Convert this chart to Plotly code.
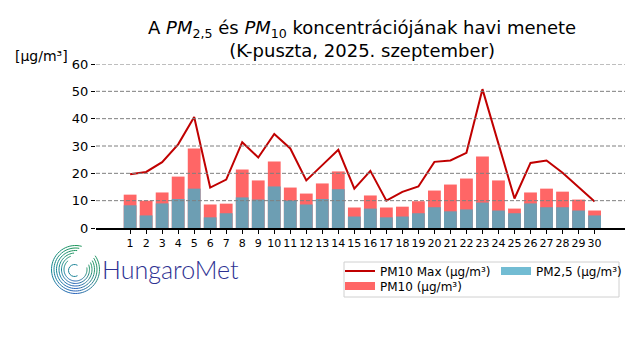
import math
import plotly.graph_objects as go

days = list(range(1, 31))
pm25 = [8.3, 4.6, 9.0, 10.6, 14.4, 3.9, 5.4, 11.2, 10.4, 15.2, 10.0, 8.6, 10.6, 14.2, 4.2,
        7.1, 3.9, 4.2, 5.4, 7.6, 6.1, 6.8, 9.3, 6.4, 5.4, 9.0, 7.6, 7.6, 6.4, 4.6]
pm10 = [12.2, 10.0, 13.0, 18.8, 29.1, 8.6, 8.9, 21.4, 17.4, 24.3, 14.8, 12.6, 16.3, 20.7, 7.5,
        11.9, 7.5, 7.8, 9.8, 13.7, 15.9, 18.1, 26.2, 17.4, 7.1, 13.0, 14.4, 13.3, 10.4, 6.4]
pm10max = [19.7, 20.5, 24.1, 30.6, 40.6, 14.8, 17.7, 31.4, 25.8, 34.4, 29.1, 17.4, 23.0, 28.6, 14.4,
           20.9, 10.0, 13.2, 15.2, 24.2, 24.7, 27.5, 50.8, 30.5, 10.8, 23.8, 24.7, 20.2, 15.0, 9.7]
yticks = [0, 10, 20, 30, 40, 50, 60]

FONT = "DejaVu Sans"
RED_BAR = "#FF6666"
BLUE_BAR = "#6D9EB3"
BLUE_LEG = "#72BCD3"
LINE_RED = "#C00000"

# layout geometry (pixels)
W, H = 640, 360
L, R, T, B = 96, 15, 64, 132
PW, PH = W - L - R, H - T - B


def px2paper(px, py):
    return (px - L) / PW, (H - B - py) / PH


fig = go.Figure()
fig.add_trace(go.Bar(x=days, y=pm10, marker=dict(color=RED_BAR, line=dict(width=0)),
                     width=0.8, showlegend=False, name="PM10 (µg/m³)"))
fig.add_trace(go.Bar(x=days, y=pm25, marker=dict(color=BLUE_BAR, line=dict(width=0)),
                     width=0.8, showlegend=False, name="PM2,5 (µg/m³)"))
fig.add_trace(go.Scatter(x=days, y=pm10max, mode="lines", line=dict(color=LINE_RED, width=2),
                         name="PM10 Max (µg/m³)", legend="legend"))
# legend-only swatches
fig.add_trace(go.Scatter(x=[None], y=[None], mode="lines", line=dict(color=RED_BAR, width=8),
                         name="PM10 (µg/m³)", legend="legend2"))
fig.add_trace(go.Scatter(x=[None], y=[None], mode="lines", line=dict(color=BLUE_LEG, width=8),
                         name="PM2,5 (µg/m³)", legend="legend3"))

shapes = []
for v in yticks[1:]:
    shapes.append(dict(type="line", xref="paper", yref="y", x0=0, x1=1, y0=v, y1=v,
                       line=dict(color="#7f7f7f", width=1, dash="4px,2px"), layer="above"))

# legend frame
lx0, ly0 = px2paper(344, 297)
lx1, ly1 = px2paper(619, 262)
shapes.append(dict(type="rect", xref="paper", yref="paper", x0=lx0, x1=lx1, y0=ly0, y1=ly1,
                   line=dict(color="#d0d0d0", width=1), fillcolor="rgba(255,255,255,0.8)",
                   layer="below"))

# logo spiral
cx, cy = 75.5, 269.5


def lerp(c1, c2, t):
    return tuple(int(round(a + (b - a) * t)) for a, b in zip(c1, c2))


def col_for(angle):
    a = angle % 360
    stops = [(0, (40, 150, 110)), (90, (30, 150, 90)), (180, (20, 135, 150)),
             (270, (40, 100, 185)), (360, (40, 150, 110))]
    for (a0, c0), (a1, c1) in zip(stops[:-1], stops[1:]):
        if a0 <= a <= a1:
            c = lerp(c0, c1, (a - a0) / (a1 - a0))
            return "rgb(%d,%d,%d)" % c
    return "rgb(40,150,110)"


rings = [(24, 75, 395), (21.5, 80, 392), (19, 85, 388), (16.5, 95, 385), (14, 110, 380), (11.5, 130, 370)]
for r, a0, a1 in rings:
    nseg = 14
    for k in range(nseg):
        s0 = a0 + (a1 - a0) * k / nseg
        s1 = a0 + (a1 - a0) * (k + 1) / nseg
        pts = []
        for j in range(5):
            a = math.radians(s0 + (s1 - s0) * j / 4)
            pts.append(px2paper(cx + r * math.cos(a), cy - r * math.sin(a)))
        path = "M " + " L ".join("%.5f,%.5f" % p for p in pts)
        shapes.append(dict(type="path", xref="paper", yref="paper", path=path,
                           line=dict(color=col_for((s0 + s1) / 2), width=1.0)))
# inner curl
pts = []
for j in range(13):
    a = math.radians(60 + 240 * j / 12)
    rr = 6
    pts.append(px2paper(cx - 1 + rr * math.cos(a), cy + 1 - rr * math.sin(a)))
shapes.append(dict(type="path", xref="paper", yref="paper",
                   path="M " + " L ".join("%.5f,%.5f" % p for p in pts),
                   line=dict(color="rgb(25,130,150)", width=1.0)))

annotations = []
tx, ty = px2paper(362, 39)
annotations.append(dict(text="A <i>PM</i><sub>2,5</sub> és <i>PM</i><sub>10</sub> koncentrációjának havi menete"
                             "<br>(K-puszta, 2025. szeptember)",
                        xref="paper", yref="paper", x=tx, y=ty, xanchor="center", yanchor="middle",
                        showarrow=False, align="center",
                        font=dict(family=FONT, size=18, color="black")))
ax, ay = px2paper(41, 56)
annotations.append(dict(text="[µg/m³]", xref="paper", yref="paper", x=ax, y=ay,
                        xanchor="center", yanchor="middle", showarrow=False,
                        font=dict(family=FONT, size=14, color="black")))
hx, hy = px2paper(100, 269)
annotations.append(dict(text="HungaroMet", xref="paper", yref="paper", x=hx, y=hy,
                        xanchor="left", yanchor="middle", showarrow=False,
                        font=dict(family="Lato", size=25, color="#2E3192", weight=300)))

leg1x, leg1y = px2paper(340, 271)
leg2x, leg2y = px2paper(340, 286)
leg3x, leg3y = px2paper(496, 271)
legfont = dict(family=FONT, size=12, color="black")

fig.update_layout(
    width=W, height=H,
    margin=dict(l=L, r=R, t=T, b=B, pad=0),
    paper_bgcolor="white", plot_bgcolor="white",
    barmode="overlay",
    font=dict(family=FONT, color="black"),
    xaxis=dict(range=[-1.13, 31.9], tickmode="array", tickvals=days,
               ticktext=[str(d) for d in days], tickangle=0, showgrid=False, zeroline=False,
               showline=True, linecolor="black", linewidth=1.5,
               ticks="outside", ticklen=4, tickcolor="black", tickwidth=1,
               tickfont=dict(family=FONT, size=11, color="black")),
    yaxis=dict(range=[0, 60], tickmode="array", tickvals=yticks, showgrid=False,
               zeroline=False, showline=False, ticks="outside", ticklen=4,
               tickcolor="black", tickwidth=1,
               tickfont=dict(family=FONT, size=13, color="black")),
    legend=dict(orientation="h", x=leg1x, y=leg1y, xanchor="left", yanchor="middle",
                bgcolor="rgba(0,0,0,0)", borderwidth=0, font=legfont),
    legend2=dict(orientation="h", x=leg2x, y=leg2y, xanchor="left", yanchor="middle",
                 bgcolor="rgba(0,0,0,0)", borderwidth=0, font=legfont),
    legend3=dict(orientation="h", x=leg3x, y=leg3y, xanchor="left", yanchor="middle",
                 bgcolor="rgba(0,0,0,0)", borderwidth=0, font=legfont),
    shapes=shapes,
    annotations=annotations,
)

fig.write_html("out.html", config={"displayModeBar": False},
               post_script="document.body.style.margin='0';")
